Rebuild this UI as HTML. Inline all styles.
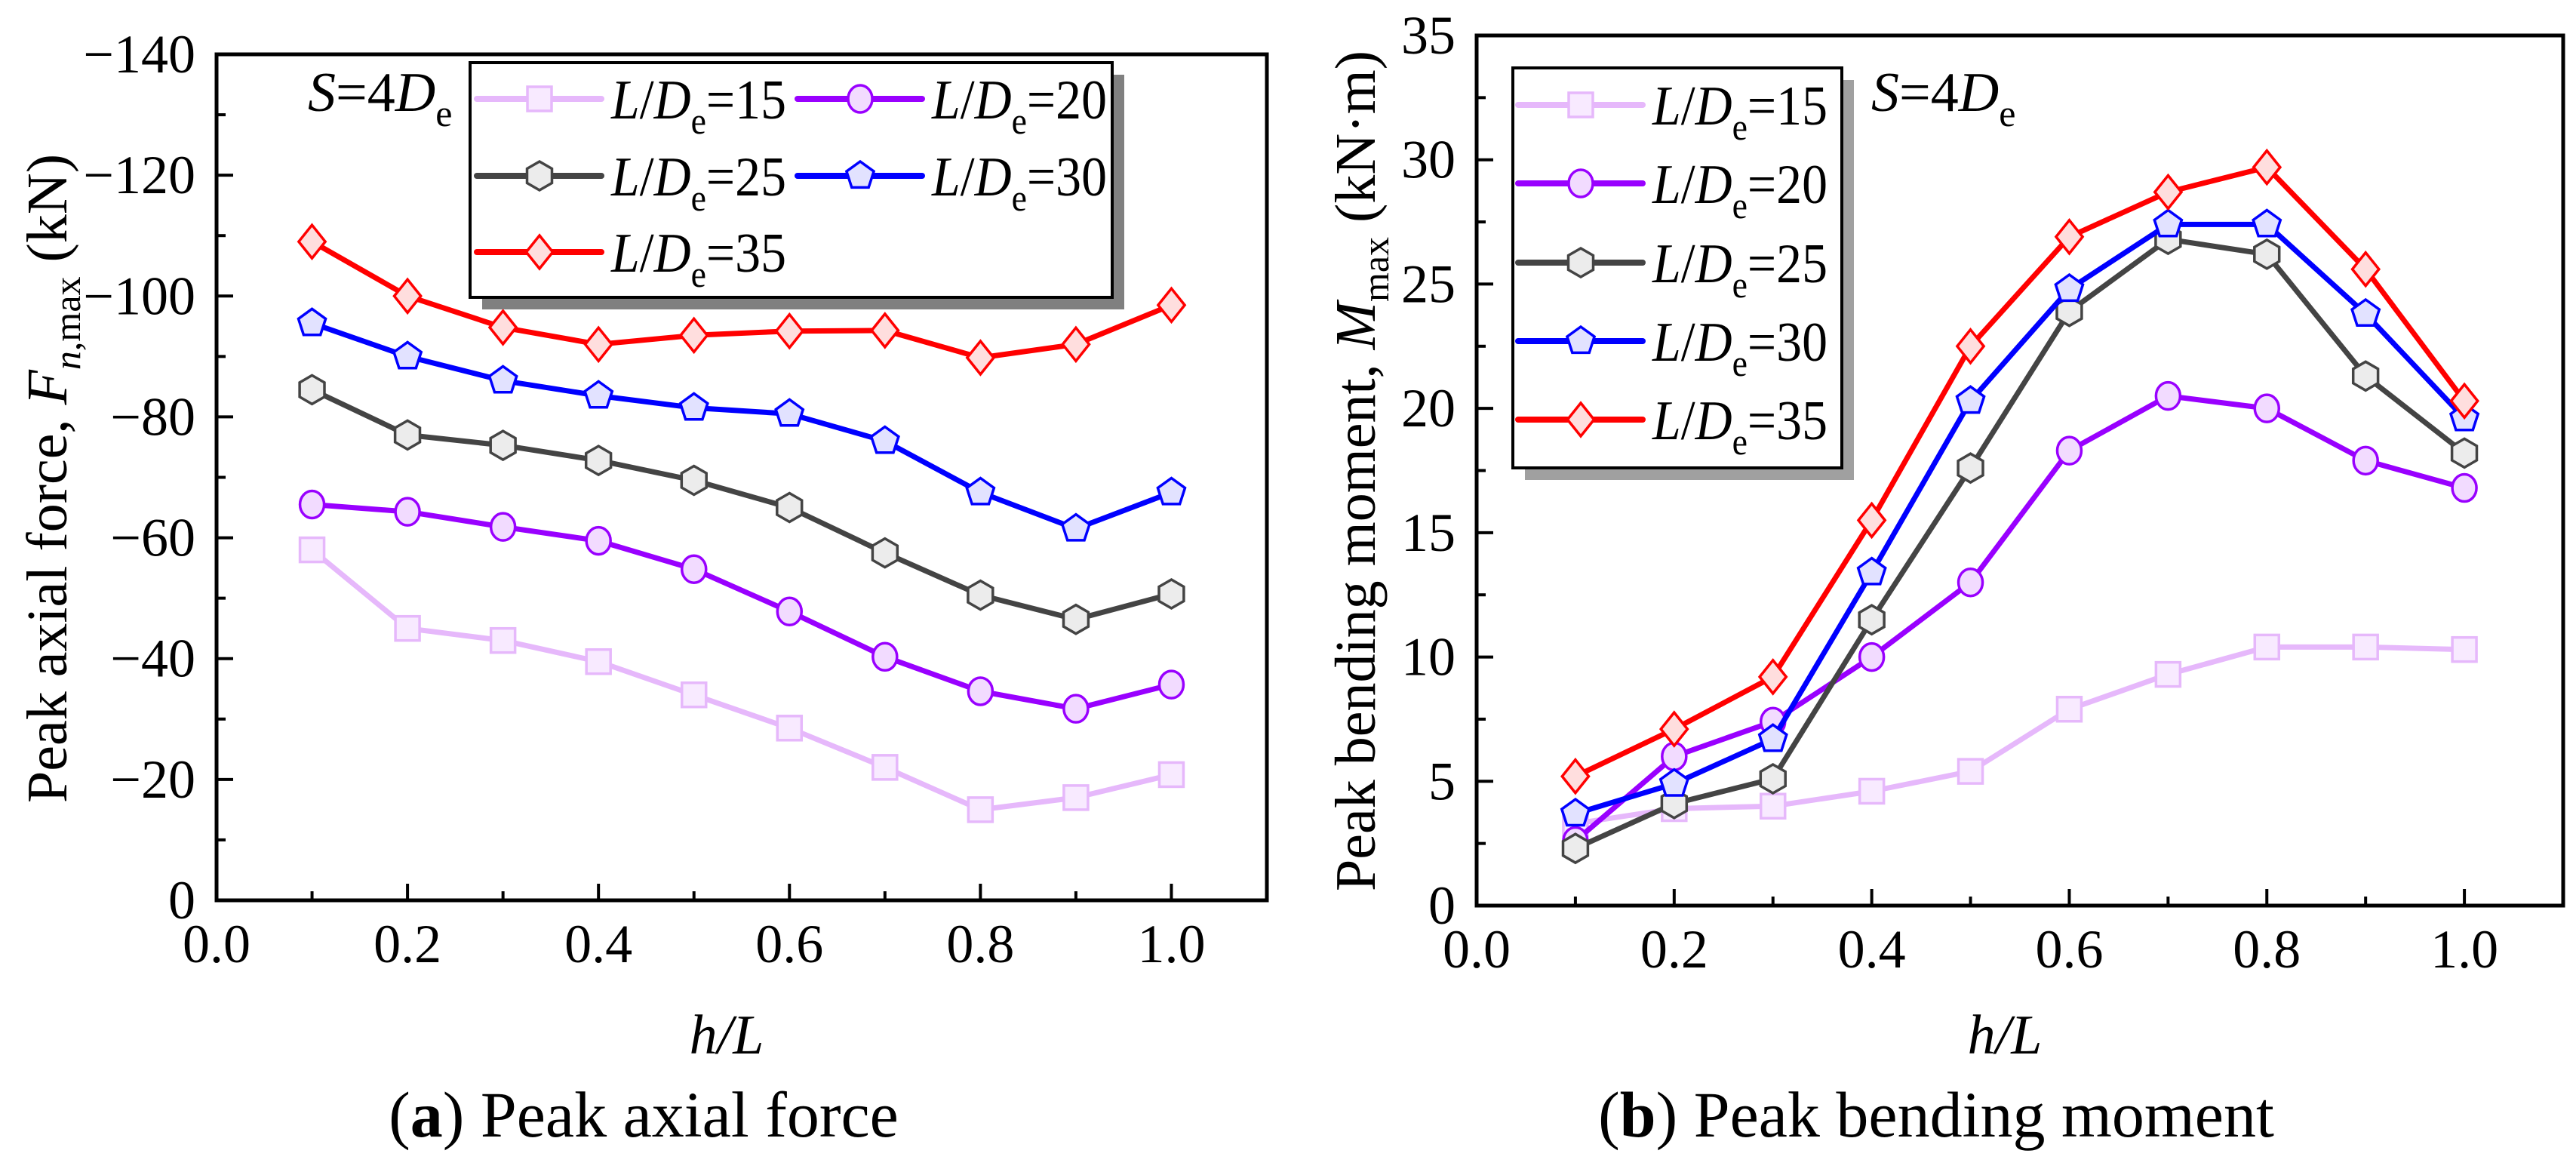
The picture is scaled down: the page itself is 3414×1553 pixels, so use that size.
<!DOCTYPE html>
<html><head><meta charset="utf-8">
<style>
html,body{margin:0;padding:0;background:#fff;}
svg{display:block;font-family:"Liberation Serif",serif;}
</style></head>
<body>
<svg id="fig" width="3414" height="1553" viewBox="0 0 3414 1553" xmlns="http://www.w3.org/2000/svg">
<g id="pa"></g>
<g id="pb"></g>
<text x="853" y="1506" font-size="86" text-anchor="middle">(<tspan font-weight="bold">a</tspan>) Peak axial force</text>
<text x="2566" y="1506" font-size="86" text-anchor="middle">(<tspan font-weight="bold">b</tspan>) Peak bending moment</text>
</svg>
<script>
const hL = [0.1,0.2,0.3,0.4,0.5,0.6,0.7,0.8,0.9,1.0];
const seriesNames = ["15","20","25","30","35"];
const axial15 = [-58,-45,-43,-39.5,-34,-28.5,-22,-15,-17,-20.8];
const axial20 = [-65.5,-64.3,-61.8,-59.5,-54.8,-47.8,-40.3,-34.6,-31.7,-35.7];
const axial25 = [-84.5,-77,-75.3,-72.8,-69.5,-65,-57.5,-50.5,-46.5,-50.7];
const axial30 = [-95.5,-90,-86,-83.5,-81.5,-80.5,-76,-67.5,-61.5,-67.5];
const axial35 = [-109,-100,-94.8,-92,-93.5,-94.2,-94.3,-89.8,-92,-98.5];
const moment15 = [3.3,3.9,4.0,4.6,5.4,7.9,9.3,10.4,10.4,10.3];
const moment20 = [2.6,6.0,7.4,10.0,13.0,18.3,20.5,20.0,17.9,16.8];
const moment25 = [2.3,4.1,5.1,11.5,17.6,23.9,26.8,26.2,21.3,18.2];
const moment30 = [3.7,4.9,6.7,13.4,20.3,24.8,27.4,27.4,23.8,19.6];
const moment35 = [5.2,7.1,9.2,15.5,22.5,26.9,28.7,29.7,25.6,20.3];
const xTicks = [0.0,0.2,0.4,0.6,0.8,1.0];
const xTickLabels = ["0.0","0.2","0.4","0.6","0.8","1.0"];
const axialTicks = [0,-20,-40,-60,-80,-100,-120,-140];
const axialTickLabels = ["0","\u221220","\u221240","\u221260","\u221280","\u2212100","\u2212120","\u2212140"];
const momentTicks = [0,5,10,15,20,25,30,35];
const momentTickLabels = ["0","5","10","15","20","25","30","35"];

const NS="http://www.w3.org/2000/svg";
const colors=["#e6b8fb","#9900ff","#444444","#0000ff","#ff0000"];
const fills=["#f8eaff","#f2dbff","#ececec","#e2e2ff","#ffdede"];
const shapes=["square","circle","hex","pent","diamond"];
function el(tag,attrs,parent){const e=document.createElementNS(NS,tag);for(const k in attrs)e.setAttribute(k,attrs[k]);parent.appendChild(e);return e;}
function marker(g,shape,cx,cy,i,name){
  const r=16;let m;
  const st={fill:fills[i],stroke:colors[i],"stroke-width":3.5};
  if(shape==="square"){m=el("rect",Object.assign({x:cx-r,y:cy-r,width:2*r,height:2*r},st),g);}
  else if(shape==="circle"){m=el("ellipse",Object.assign({cx:cx,cy:cy,rx:r,ry:r+2},st),g);}
  else{
    let n=shape==="hex"?6:shape==="pent"?5:4, rr=shape==="diamond"?r+6:r+3, pts=[];
    for(let k=0;k<n;k++){const a=-Math.PI/2+k*2*Math.PI/n;pts.push((cx+rr*Math.cos(a)*(shape==="diamond"?0.8:1)).toFixed(1)+","+(cy+rr*Math.sin(a)).toFixed(1));}
    m=el("polygon",Object.assign({points:pts.join(" ")},st),g);
  }
  
  
  return m;
}
function ldLabel(g,x,y,num,name){
  const t=el("text",{x:x,y:y,"font-size":74,textLength:232,lengthAdjust:"spacingAndGlyphs"},g);
  t.innerHTML='<tspan font-style="italic">L</tspan>/<tspan font-style="italic">D</tspan><tspan font-size="50" dy="20">e</tspan><tspan dy="-20">='+num+'</tspan>';
  
  
}
function chart(g,cfg){
  const X=v=>cfg.x0+(v/1.1)*(cfg.x1-cfg.x0);
  const Y=v=>cfg.yb-(v-cfg.ymin)/(cfg.ymax-cfg.ymin)*(cfg.yb-cfg.yt);
  const ax=el("g",{},g);
  
  
  xTicks.forEach((v,i)=>{
    const tk=el("line",{x1:X(v),x2:X(v),y1:cfg.yb,y2:cfg.yb-22,stroke:"#000","stroke-width":4},ax);
    
    
    const mv=v+0.1; if(mv<1.05){const mt=el("line",{x1:X(mv),x2:X(mv),y1:cfg.yb,y2:cfg.yb-12,stroke:"#000","stroke-width":4},ax);
    
    }
    const t=el("text",{x:X(v),y:cfg.yb+82,"font-size":72,"text-anchor":"middle"},ax);
    t.textContent=xTickLabels[i];
    
    
  });
  cfg.ticks.forEach((v,i)=>{
    const tk=el("line",{x1:cfg.x0,x2:cfg.x0+22,y1:Y(v),y2:Y(v),stroke:"#000","stroke-width":4},ax);
    
    
    if(i<cfg.ticks.length-1){const mv=(v+cfg.ticks[i+1])/2;
      const mt=el("line",{x1:cfg.x0,x2:cfg.x0+12,y1:Y(mv),y2:Y(mv),stroke:"#000","stroke-width":4},ax);
      
      }
    const t=el("text",{x:cfg.x0-28,y:Y(v)+24,"font-size":72,"text-anchor":"end"},ax);
    t.textContent=cfg.tickLabels[i];
    
    
  });
  const box=el("rect",{x:cfg.x0,y:cfg.yt,width:cfg.x1-cfg.x0,height:cfg.yb-cfg.yt,fill:"none",stroke:"#000","stroke-width":5},ax);
  
  
  const xt=el("text",{x:(cfg.x0+cfg.x1)/2-20,y:1396,"font-size":74,"font-style":"italic","text-anchor":"middle"},ax);
  xt.textContent="h/L";
  
  
  const yt=el("text",{x:0,y:0,"font-size":76,"text-anchor":"middle",transform:"translate("+cfg.ytx+","+cfg.yty+") rotate(-90)"},ax);
  yt.innerHTML=cfg.ytitle;
  
  
  cfg.data.forEach((arr,i)=>{
    const sg=el("g",{},g);
    
    
    const pl=el("polyline",{points:arr.map((v,k)=>X(hL[k]).toFixed(1)+","+Y(v).toFixed(1)).join(" "),fill:"none",stroke:colors[i],"stroke-width":7,"stroke-linejoin":"round","stroke-linecap":"round"},sg);
    
    
    arr.forEach((v,k)=>marker(sg,shapes[i],X(hL[k]),Y(v),i,'point-ld-'+seriesNames[i]));
  });
  const lg=el("g",{},g);
  
  
  const L=cfg.legend;
  const sh=el("rect",{x:L.x+16,y:L.y+16,width:L.w,height:L.h,fill:L.shadow},lg);
  
  
  const lb=el("rect",{x:L.x,y:L.y,width:L.w,height:L.h,fill:"#fff",stroke:"#000","stroke-width":4},lg);
  
  
  L.pos.forEach((p,i)=>{
    const e=el("g",{},lg);
    
    
    const ln=el("line",{x1:p[0],x2:p[0]+165,y1:p[1],y2:p[1],stroke:colors[i],"stroke-width":8,"stroke-linecap":"round"},e);
    
    
    marker(e,shapes[i],p[0]+83,p[1],i,'legend-marker');
    ldLabel(e,p[0]+178,p[1]+26,seriesNames[i],'legend-label');
  });
  const s=el("text",{x:cfg.sx,y:cfg.sy,"font-size":74},g);
  s.innerHTML='<tspan font-style="italic">S</tspan>=4<tspan font-style="italic">D</tspan><tspan font-size="50" dy="20">e</tspan>';
  
  
}
chart(document.getElementById("pa"),{
  x0:287,x1:1679,yt:72,yb:1193,ymin:0,ymax:-140,ticks:axialTicks,tickLabels:axialTickLabels,
  data:[axial15,axial20,axial25,axial30,axial35],
  ytx:88,yty:634,
  ytitle:'Peak axial force, <tspan font-style="italic">F</tspan><tspan font-size="50" dy="18"><tspan font-style="italic">n</tspan>,max</tspan><tspan dy="-18"> (kN)</tspan>',
  legend:{x:623,y:83,w:851,h:311,shadow:"#808080",pos:[[632,131],[1057,131],[632,233],[1057,233],[632,334]]},
  sx:408,sy:147
});
chart(document.getElementById("pb"),{
  x0:1957,x1:3397,yt:47,yb:1200,ymin:0,ymax:35,ticks:momentTicks,tickLabels:momentTickLabels,
  data:[moment15,moment20,moment25,moment30,moment35],
  ytx:1822,yty:624,
  ytitle:'Peak bending moment, <tspan font-style="italic">M</tspan><tspan font-size="50" dy="18">max</tspan><tspan dy="-18"> (kN·m)</tspan>',
  legend:{x:2005,y:90,w:436,h:530,shadow:"#a0a0a0",pos:[[2012,139],[2012,243],[2012,348],[2012,452],[2012,556]]},
  sx:2480,sy:147
});
</script>
</body></html>
